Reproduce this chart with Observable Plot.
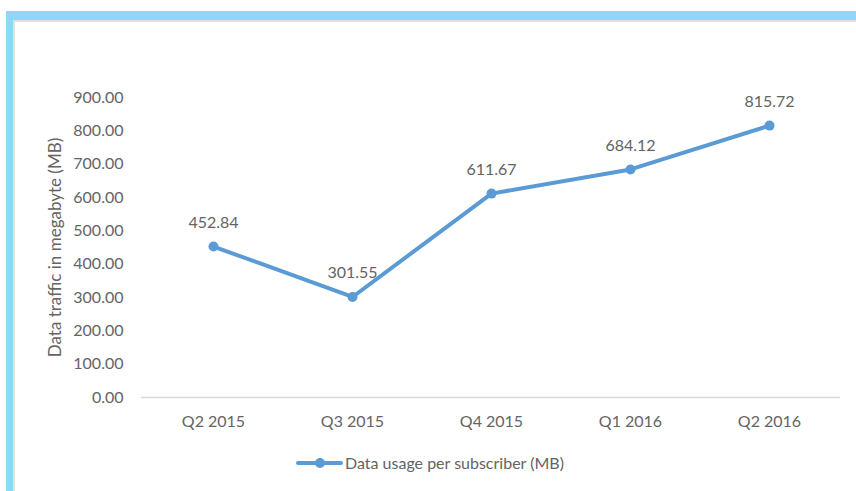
<!DOCTYPE html>
<html>
<head>
<meta charset="utf-8">
<script src="https://cdn.jsdelivr.net/npm/d3@7"></script>
<script src="https://cdn.jsdelivr.net/npm/@observablehq/plot@0.6"></script>
<style>
  body { margin: 0; background: #fff; }
  #wrap { position: relative; width: 856px; height: 491px; overflow: hidden; font-family: Lato, "Open Sans", sans-serif; }
  #frameBlue { position: absolute; left: 6px; top: 11px; width: 860px; height: 490px; border-top: 9px solid #8dd7f7; border-left: 7px solid #8dd7f7; box-sizing: border-box; }
  #frameGray { position: absolute; left: 13px; top: 20px; width: 860px; height: 490px; border-top: 2px solid #e0e0e0; border-left: 2px solid #e0e0e0; box-sizing: border-box; }
  #chart { position: absolute; left: 0; top: 0; }
  #legend { position: absolute; left: 0; top: 452px; width: 856px; height: 24px; }
  #legend span { position: absolute; left: 345px; top: 1px; font-size: 16px; color: #646464; }
</style>
</head>
<body>
<div id="wrap">
  <div id="frameBlue"></div>
  <div id="frameGray"></div>
  <div id="chart"></div>
  <div id="legend">
    <svg width="60" height="24" style="position:absolute;left:290px;top:0">
      <line x1="8" x2="51" y1="11" y2="11" stroke="#5b9bd5" stroke-width="4" stroke-linecap="round"></line>
      <circle cx="30" cy="11" r="5" fill="#5b9bd5"></circle>
    </svg>
    <span>Data usage per subscriber (MB)</span>
  </div>
</div>
<script>
const quarters = ["Q2 2015", "Q3 2015", "Q4 2015", "Q1 2016", "Q2 2016"];
const usage = [452.84, 301.55, 611.67, 684.12, 815.72];
const yTicks = [0, 100, 200, 300, 400, 500, 600, 700, 800, 900];

const data = quarters.map((q, i) => ({ q, v: usage[i] }));
const fmt = d3.format(".2f");
const blue = "#5b9bd5";
const grey = "#646464";

const chart = Plot.plot({
  width: 856,
  height: 445,
  marginLeft: 141,
  marginRight: 16,
  marginTop: 97,
  marginBottom: 48,
  style: { fontFamily: "Lato, 'Open Sans', sans-serif", fontSize: "16px", color: grey, background: "transparent" },
  x: { type: "point", domain: quarters, padding: 0.5, label: null },
  y: { domain: [0, 900], label: null },
  marks: [
    Plot.ruleY([0], { stroke: "#d9d9d9", strokeWidth: 1.5 }),
    Plot.axisY({ ticks: yTicks, tickFormat: fmt, tickSize: 0, tickPadding: 18, fill: grey, fontSize: 16, label: null }),
    Plot.axisX({ tickSize: 0, tickPadding: 18, fill: grey, fontSize: 16, label: null }),
    Plot.text(["Data traffic in megabyte (MB)"], { frameAnchor: "left", textAnchor: "middle", dx: -86, rotate: -90, fill: grey, fontSize: 17 }),
    Plot.line(data, { x: "q", y: "v", stroke: blue, strokeWidth: 4 }),
    Plot.dot(data, { x: "q", y: "v", r: 5, fill: blue }),
    Plot.text(data, { x: "q", y: "v", text: d => fmt(d.v), dy: -24, fill: grey, fontSize: 16 })
  ]
});
document.getElementById("chart").appendChild(chart);
</script>
</body>
</html>
